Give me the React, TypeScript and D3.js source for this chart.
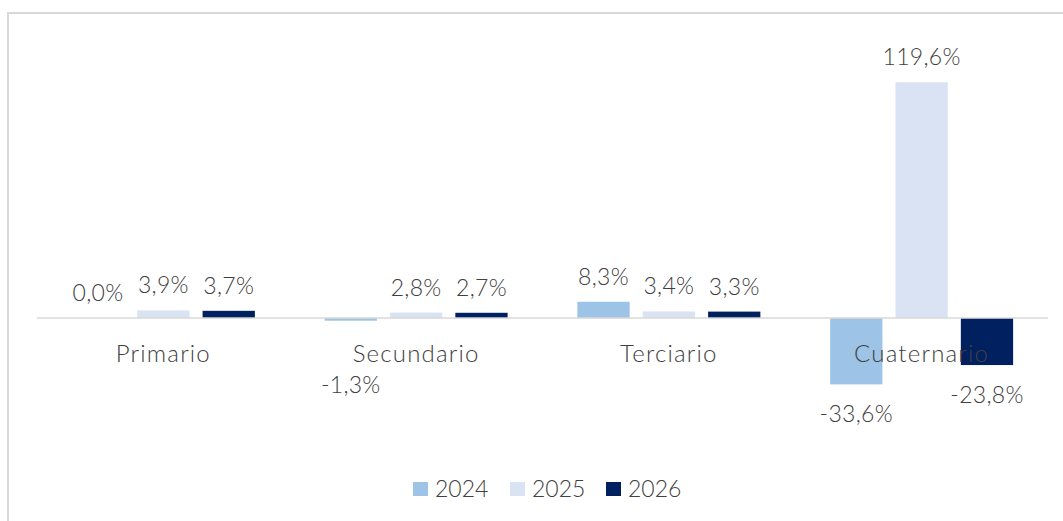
import React from "react";
import * as d3 from "d3";

const categories = ["Primario", "Secundario", "Terciario", "Cuaternario"];
const seriesNames = ["2024", "2025", "2026"];
const values2024 = [0.0, -1.3, 8.3, -33.6];
const values2025 = [3.9, 2.8, 3.4, 119.6];
const values2026 = [3.7, 2.7, 3.3, -23.8];
const colors = ["#9DC3E6", "#DAE3F3", "#002060"];

const W = 1063;
const H = 521;
const FONT = "Lato, 'Noto Sans', sans-serif";
const TEXT = "#404040";

export default function App() {
  const series = [values2024, values2025, values2026];
  const x = d3.scaleBand<string>().domain(categories).range([37, 1048]).padding(0);
  const bw = x.bandwidth();
  const outer = (bw - 183) / 2;
  const xs = d3
    .scaleBand<string>()
    .domain(seriesNames)
    .range([outer, bw - outer])
    .paddingInner(0.2)
    .paddingOuter(0);
  const y = d3.scaleLinear().domain([-40, 140]).range([397, 42]);
  const y0 = y(0);
  const fmt = (v: number) => v.toFixed(1).replace(".", ",") + "%";

  const legendX = [413, 510, 606];

  return (
    <svg
      width={W}
      height={H}
      style={{ position: "absolute", left: 0, top: 0, background: "#fff" }}
      fontFamily={FONT}
    >
      <line x1={7} y1={13} x2={W} y2={13} stroke="#d9d9d9" strokeWidth={2} />
      <line x1={8} y1={12} x2={8} y2={H} stroke="#d9d9d9" strokeWidth={2} />

      {series.map((vals, si) =>
        vals.map((v, ci) => {
          const bx = (x(categories[ci]) as number) + (xs(seriesNames[si]) as number);
          const top = Math.min(y(v), y0);
          const h = Math.abs(y(v) - y0);
          return (
            <rect
              key={`b-${si}-${ci}`}
              x={bx}
              y={top}
              width={xs.bandwidth()}
              height={h}
              fill={colors[si]}
            />
          );
        })
      )}

      <line x1={37} y1={y0} x2={1048} y2={y0} stroke="#d9d9d9" strokeWidth={1.5} />

      {categories.map((c) => (
        <text
          key={c}
          x={(x(c) as number) + bw / 2}
          y={362}
          textAnchor="middle"
          fontSize={24}
          fontWeight={300}
          letterSpacing={1.2}
          fill={TEXT}
        >
          {c}
        </text>
      ))}

      {series.map((vals, si) =>
        vals.map((v, ci) => {
          const cx =
            (x(categories[ci]) as number) +
            (xs(seriesNames[si]) as number) +
            xs.bandwidth() / 2;
          const ly = v >= 0 ? y(v) - 17 : Math.max(y(v) + 38, 393);
          return (
            <text
              key={`l-${si}-${ci}`}
              x={cx}
              y={ly}
              textAnchor="middle"
              fontSize={23}
              fontWeight={300}
              letterSpacing={0.3}
              fill={TEXT}
            >
              {fmt(v)}
            </text>
          );
        })
      )}

      {seriesNames.map((s, i) => (
        <g key={s}>
          <rect x={legendX[i]} y={482} width={15} height={14} fill={colors[i]} />
          <text x={legendX[i] + 22} y={497} fontSize={23} fontWeight={300} fill={TEXT}>
            {s}
          </text>
        </g>
      ))}
    </svg>
  );
}
